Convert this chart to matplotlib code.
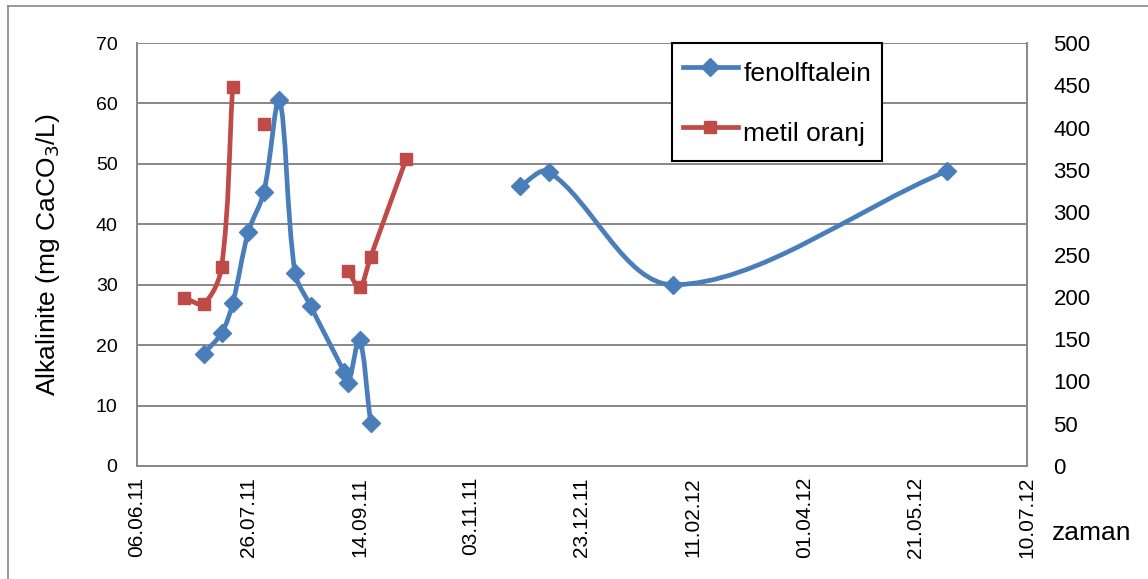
import numpy as np
import pandas as pd
import matplotlib
matplotlib.use('Agg')
import matplotlib.pyplot as plt
import matplotlib.dates as mdates
from matplotlib.path import Path
from matplotlib.patches import PathPatch
from matplotlib.lines import Line2D

plt.rcParams['font.family'] = ['Liberation Sans', 'DejaVu Sans']

# sampling dates (shared by both series), NaN = no measurement
dates = ['27.06.11', '06.07.11', '14.07.11', '19.07.11', '26.07.11', '02.08.11',
         '09.08.11', '16.08.11', '23.08.11', '07.09.11', '09.09.11', '14.09.11',
         '19.09.11', '05.10.11', '25.11.11', '08.12.11', '02.02.12', '04.06.12']
nan = np.nan
fenolftalein = [nan, 18.6, 22.0, 26.9, 38.7, 45.3, 60.6, 32.0, 26.5, 15.6, 13.8,
                20.9, 7.1, nan, 46.3, 48.7, 30.0, 48.8]            # left axis
metil_oranj = [199, 192, 235, 448, nan, 404, nan, nan, nan, nan, 230, 211,
               247, 363, nan, nan, nan, nan]                        # right axis

tick_dates = ['06.06.11', '26.07.11', '14.09.11', '03.11.11', '23.12.11',
              '11.02.12', '01.04.12', '21.05.12', '10.07.12']

BLUE = '#4A7EBB'
RED = '#BE4B48'
GRID = '#878787'
LW = 3.4

x = mdates.date2num(pd.to_datetime(dates, format='%d.%m.%y'))
xt = mdates.date2num(pd.to_datetime(tick_dates, format='%d.%m.%y'))


def runs(xs, ys):
    """split a series into runs of consecutive non-missing points"""
    out, cur = [], []
    for a, b in zip(xs, ys):
        if np.isnan(b):
            if cur:
                out.append(np.array(cur))
            cur = []
        else:
            cur.append((a, b))
    if cur:
        out.append(np.array(cur))
    return out


def smooth_path(ax, pts):
    # cubic bezier through the points; tangents weighted by the
    # on-screen length of the neighbouring segments
    p = ax.transData.transform(pts)
    n = len(p)
    verts = [p[0]]
    codes = [Path.MOVETO]
    for i in range(n - 1):
        p0 = p[i - 1] if i > 0 else p[i]
        p1, p2 = p[i], p[i + 1]
        p3 = p[i + 2] if i + 2 < n else p[i + 1]
        d01 = np.hypot(*(p1 - p0))
        d12 = np.hypot(*(p2 - p1))
        d23 = np.hypot(*(p3 - p2))
        f1 = d12 / (d01 + d12) / 3.0
        f2 = d12 / (d12 + d23) / 3.0
        verts += [p1 + (p2 - p0) * f1, p2 - (p3 - p1) * f2, p2]
        codes += [Path.CURVE4] * 3
    verts = ax.transData.inverted().transform(np.array(verts))
    return Path(verts, codes)


def draw_series(ax, ys, color, marker, ms):
    for r in runs(x, ys):
        if len(r) > 1:
            ax.add_patch(PathPatch(smooth_path(ax, r), facecolor='none', edgecolor=color,
                                   lw=LW, capstyle='round', joinstyle='round', zorder=3))
    ax.plot(x, ys, ls='none', marker=marker, ms=ms, color=color, zorder=4)


fig = plt.figure(figsize=(11.48, 5.79), dpi=100)
ax = fig.add_axes([137 / 1148, 1 - 466 / 579, (1027 - 137) / 1148, (466 - 43) / 579])
ax2 = ax.twinx()

ax.set_xlim(xt[0], xt[-1])
ax.set_ylim(0, 70)
ax2.set_ylim(0, 500)
ax.set_yticks(np.arange(0, 71, 10))
ax2.set_yticks(np.arange(0, 501, 50))
ax.set_xticks(xt)
ax.set_xticklabels(tick_dates, rotation=90)

draw_series(ax, fenolftalein, BLUE, 'D', 9)
draw_series(ax2, metil_oranj, RED, 's', 9)

ax.grid(axis='y', color=GRID, lw=1.4)
ax.set_axisbelow(True)
for a in (ax, ax2):
    for s in a.spines.values():
        s.set_visible(False)
    a.tick_params(length=0)
ax.spines['left'].set_visible(True)
ax.spines['bottom'].set_visible(True)
ax2.spines['right'].set_visible(True)
for s in (ax.spines['left'], ax.spines['bottom'], ax2.spines['right']):
    s.set_color(GRID)
    s.set_linewidth(1.4)

ax.tick_params(axis='y', labelsize=14, pad=14)
ax.tick_params(axis='x', labelsize=15, pad=8)
ax2.tick_params(axis='y', labelsize=16, pad=19)

ax.set_ylabel('Alkalinite (mg CaCO$_3$/L)', fontsize=19)
ax.yaxis.set_label_coords(62 / 1148, 1 - 254.5 / 579, transform=fig.transFigure)
fig.text(1052 / 1148, 1 - 533 / 579, 'zaman', fontsize=19, va='center', ha='left')

handles = [Line2D([], [], color=BLUE, lw=LW, marker='D', ms=9),
           Line2D([], [], color=RED, lw=LW, marker='s', ms=9)]
leg = ax2.legend(handles, ['fenolftalein', 'metil oranj'], loc='upper left',
                 bbox_to_anchor=(672 / 1148, 1 - 43 / 579), bbox_transform=fig.transFigure,
                 fontsize=19, fancybox=False, framealpha=1, borderaxespad=0,
                 handlelength=2.1, handleheight=1.8, handletextpad=0.2,
                 labelspacing=0.85, borderpad=0.4)
leg.get_frame().set_edgecolor('black')
leg.get_frame().set_linewidth(1.5)

# outer chart border
fig.add_artist(Line2D([8 / 1148, 8 / 1148], [0, 1 - 6 / 579], color=GRID, lw=1.2))
fig.add_artist(Line2D([8 / 1148, 1], [1 - 6 / 579, 1 - 6 / 579], color=GRID, lw=1.2))

fig.savefig('out.png', dpi=100)
